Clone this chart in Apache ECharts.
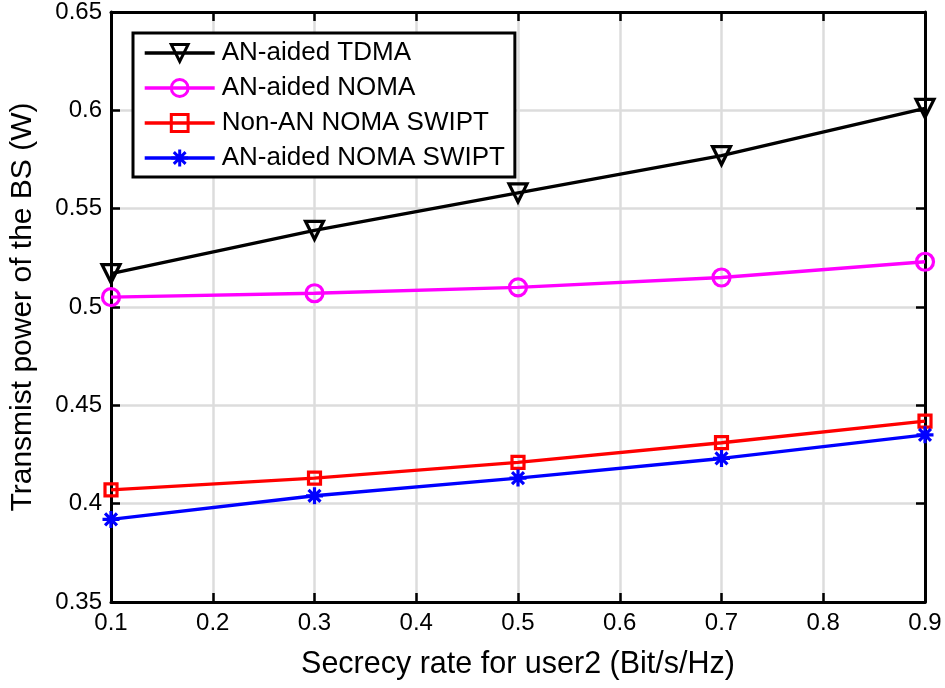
<!DOCTYPE html>
<html><head><meta charset="utf-8">
<script src="https://cdn.jsdelivr.net/npm/echarts@6/dist/echarts.min.js"></script>
<style>html,body{margin:0;padding:0;background:#fff}#c{width:945px;height:688px}</style>
</head><body><div id="c"></div>
<script>
const xValues = [0.1, 0.3, 0.5, 0.7, 0.9];
const tdma = [0.517, 0.539, 0.558, 0.577, 0.601];
const anNoma = [0.505, 0.507, 0.510, 0.515, 0.523];
const nonAnSwipt = [0.407, 0.413, 0.421, 0.431, 0.442];
const anSwipt = [0.392, 0.404, 0.413, 0.423, 0.435];
const seriesNames = ['AN-aided TDMA', 'AN-aided NOMA', 'Non-AN NOMA SWIPT', 'AN-aided NOMA SWIPT'];
const xTicks = {min: 0.1, max: 0.9, interval: 0.1};
const yTicks = {min: 0.35, max: 0.65, interval: 0.05};

const FONT = 'Liberation Sans, Arial, Helvetica, sans-serif';
const triDown = 'path://M0,0L10,0L5,9Z';
const asterisk = 'path://M5,0L5,10M0,5L10,5M1.5,1.5L8.5,8.5M8.5,1.5L1.5,8.5';

function pairs(ys){ return xValues.map((x,i)=>[x, ys[i]]); }
function fmt(v){ return String(parseFloat(v.toFixed(2))); }

function mk(name, data, color, symbol, size, fill){
  return {
    name, type: 'line', data: pairs(data), symbol, symbolSize: size,
    lineStyle: {color, width: 3.4},
    itemStyle: {color: fill || 'rgba(255,255,255,0)', borderColor: color, borderWidth: 3.2},
    emphasis: {disabled: true}, z: 3
  };
}

const chart = echarts.init(document.getElementById('c'), null, {renderer: 'canvas'});
const axisCommon = {
  axisLine: {show: true, lineStyle: {color: '#000', width: 3}},
  axisTick: {show: true, inside: true, length: 9, lineStyle: {color: '#000', width: 2.5}},
};
chart.setOption({
  animation: false,
  backgroundColor: '#fff',
  textStyle: {fontFamily: FONT},
  grid: {left: 110, right: 20, top: 12, bottom: 86, containLabel: false},
  legend: {
    orient: 'vertical', left: 133, top: 33, data: seriesNames,
    itemWidth: 70, itemHeight: 21, itemGap: 7,
    padding: [6, 10, 5, 10],
    backgroundColor: '#fff', borderColor: '#000', borderWidth: 3,
    lineStyle: {width: 3.4},
    itemStyle: {borderWidth: 3},
    textStyle: {fontFamily: FONT, fontSize: 26, lineHeight: 28, color: '#000', padding: [0,0,0,2]},
    selectedMode: false
  },
  xAxis: [{
    type: 'value', min: xTicks.min, max: xTicks.max, interval: xTicks.interval,
    name: 'Secrecy rate for user2 (Bit/s/Hz)', nameLocation: 'middle', nameGap: 47,
    nameTextStyle: {fontFamily: FONT, fontSize: 30.5, color: '#000'},
    ...axisCommon,
    axisLabel: {color: '#000', fontSize: 24, fontFamily: FONT, margin: 9, formatter: fmt},
    splitLine: {show: true, lineStyle: {color: '#dcdcdc', width: 2.5}}
  }, {
    type: 'value', position: 'top', min: xTicks.min, max: xTicks.max, interval: xTicks.interval,
    ...axisCommon, axisLabel: {show: false}, splitLine: {show: false}
  }],
  yAxis: [{
    type: 'value', min: yTicks.min, max: yTicks.max, interval: yTicks.interval,
    name: 'Transmist power of the BS (W)', nameLocation: 'middle', nameGap: 73,
    nameTextStyle: {fontFamily: FONT, fontSize: 30, color: '#000'},
    ...axisCommon,
    axisLabel: {color: '#000', fontSize: 24, fontFamily: FONT, margin: 9, formatter: fmt},
    splitLine: {show: true, lineStyle: {color: '#dcdcdc', width: 2.5}}
  }, {
    type: 'value', position: 'right', min: yTicks.min, max: yTicks.max, interval: yTicks.interval,
    ...axisCommon, axisLabel: {show: false}, splitLine: {show: false}
  }],
  series: [
    mk(seriesNames[0], tdma, '#000000', triDown, 18),
    mk(seriesNames[1], anNoma, '#ff00ff', 'circle', 17),
    mk(seriesNames[2], nonAnSwipt, '#ff0000', 'rect', 12),
    mk(seriesNames[3], anSwipt, '#0000ff', asterisk, 17, '#0000ff')
  ]
});
</script></body></html>
